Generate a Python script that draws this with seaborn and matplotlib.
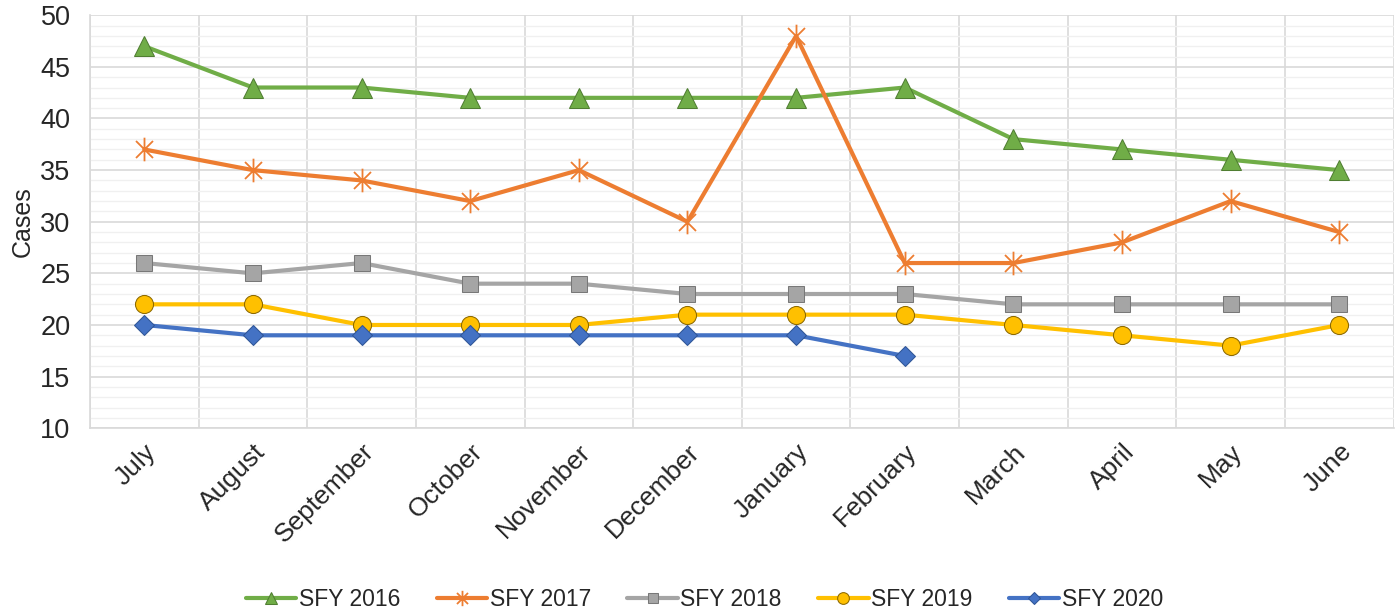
import numpy as np
import pandas as pd
import seaborn as sns
import matplotlib.pyplot as plt
from matplotlib.path import Path
from matplotlib.ticker import MultipleLocator

months = ["July", "August", "September", "October", "November", "December",
          "January", "February", "March", "April", "May", "June"]

sfy_2016 = [47, 43, 43, 42, 42, 42, 42, 43, 38, 37, 36, 35]
sfy_2017 = [37, 35, 34, 32, 35, 30, 48, 26, 26, 28, 32, 29]
sfy_2018 = [26, 25, 26, 24, 24, 23, 23, 23, 22, 22, 22, 22]
sfy_2019 = [22, 22, 20, 20, 20, 21, 21, 21, 20, 19, 18, 20]
sfy_2020 = [20, 19, 19, 19, 19, 19, 19, 17]

series = {
    "SFY 2016": sfy_2016,
    "SFY 2017": sfy_2017,
    "SFY 2018": sfy_2018,
    "SFY 2019": sfy_2019,
    "SFY 2020": sfy_2020,
}

# excel-style star: an X with a vertical bar through it
star = Path([(0, -1), (0, 1), (-0.72, -0.72), (0.72, 0.72), (-0.72, 0.72), (0.72, -0.72)],
            [Path.MOVETO, Path.LINETO] * 3)

styles = {
    "SFY 2016": dict(color="#70AD47", marker="^", markersize=14, markeredgecolor="#507E32", markerfacecolor="#70AD47"),
    "SFY 2017": dict(color="#ED7D31", marker=star, markersize=17, markeredgecolor="#ED7D31", markeredgewidth=1.3),
    "SFY 2018": dict(color="#A5A5A5", marker="s", markersize=12, markeredgecolor="#787878", markerfacecolor="#A5A5A5"),
    "SFY 2019": dict(color="#FFC000", marker="o", markersize=13, markeredgecolor="#8C6900", markerfacecolor="#FFC000"),
    "SFY 2020": dict(color="#4472C4", marker="D", markersize=10, markeredgecolor="#2F5597", markerfacecolor="#4472C4"),
}

rows = []
for name, vals in series.items():
    for i, v in enumerate(vals):
        rows.append({"series": name, "month": i, "cases": v})
df = pd.DataFrame(rows)

sns.set_style("white")
plt.rcParams["font.family"] = ["Liberation Sans", "DejaVu Sans"]

fig, ax = plt.subplots(figsize=(13.95, 6.10), dpi=100)
fig.subplots_adjust(left=0.0645, right=0.999, top=0.975, bottom=0.298)

for name in series:
    sub = df[df["series"] == name]
    sns.lineplot(data=sub, x="month", y="cases", ax=ax, linewidth=3, label=name,
                 **styles[name])

ax.set_xlim(-0.5, 11.5)
ax.set_ylim(10, 50)
ax.yaxis.set_major_locator(MultipleLocator(5))
ax.yaxis.set_minor_locator(MultipleLocator(1))
ax.set_xticks(range(len(months)))
ax.set_xticks(np.arange(-0.5, 12, 1), minor=True)
ax.set_xticklabels(months, rotation=45, ha="right", rotation_mode="anchor", fontsize=19)
ax.tick_params(axis="y", labelsize=19.5, length=0, pad=14)
ax.tick_params(axis="x", which="both", length=0, pad=8)
ax.tick_params(axis="y", which="minor", length=0)

ax.grid(True, axis="y", which="major", color="#D9D9D9", linewidth=1.2)
ax.grid(True, axis="y", which="minor", color="#F0F0F0", linewidth=1.0)
ax.grid(True, axis="x", which="minor", color="#D9D9D9", linewidth=1.2)
ax.grid(False, axis="x", which="major")
ax.set_axisbelow(True)

for side in ["top", "right"]:
    ax.spines[side].set_visible(False)
for side in ["left", "bottom"]:
    ax.spines[side].set_color("#D9D9D9")
    ax.spines[side].set_linewidth(1.2)

ax.set_xlabel("")
ax.set_ylabel("Cases", fontsize=18, labelpad=4)

ax.legend_.remove()
handles, labels = ax.get_legend_handles_labels()
fig.legend(handles, labels, loc="lower center", bbox_to_anchor=(0.505, -0.035), ncol=5,
           frameon=False, fontsize=16.5, handlelength=2.2, columnspacing=1.6,
           handletextpad=0.1, markerscale=0.65)

fig.savefig("out.png", dpi=100)
